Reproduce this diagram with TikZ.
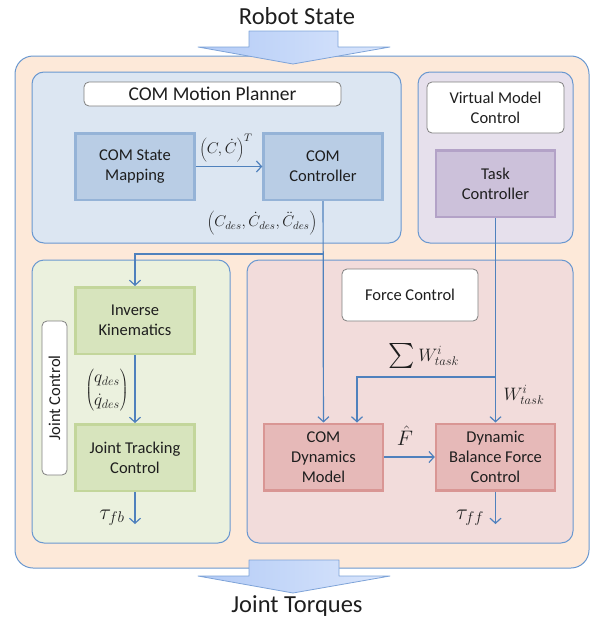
\RequirePackage{fix-cm}
\documentclass[tikz,border=0pt]{standalone}
\usepackage{fontspec}
\setmainfont{Carlito}
\usetikzlibrary{arrows.meta, positioning}

\definecolor{framefill}{HTML}{FDE9D9}
\definecolor{frameline}{HTML}{6A98D0}
\definecolor{planfill}{HTML}{DCE6F2}
\definecolor{vmcfill}{HTML}{E6E0EC}
\definecolor{jointfill}{HTML}{EBF1DE}
\definecolor{forcefill}{HTML}{F2DCDB}
\definecolor{blueblk}{HTML}{B9CDE5}
\definecolor{blueedge}{HTML}{95B3D7}
\definecolor{purpleblk}{HTML}{CCC1DA}
\definecolor{purpleedge}{HTML}{B3A2C7}
\definecolor{greenblk}{HTML}{D7E4BD}
\definecolor{greenedge}{HTML}{C3D69B}
\definecolor{redblk}{HTML}{E6B9B8}
\definecolor{rededge}{HTML}{D99694}
\definecolor{linkblue}{HTML}{4F81BD}
\definecolor{arrowleft}{HTML}{B3CBF6}
\definecolor{arrowright}{HTML}{DAE6FC}
\definecolor{arrowline}{HTML}{7EA3D8}
\definecolor{inkgray}{HTML}{1E1E1E}

\begin{document}
\begin{tikzpicture}[x=1pt,y=-1pt,>={Straight Barb[length=5pt,width=11pt]},node distance=188pt,text=inkgray]
		\tikzstyle{panel}=[draw=frameline, line width=1pt, rounded corners=12pt]
		\tikzstyle{title}=[draw=gray, fill=white, rounded corners=5pt, line width=0.8pt, align=center, font=\fontsize{16.5}{20}\selectfont]
		\tikzstyle{block}=[line width=2.5pt, minimum width=119pt, minimum height=66.5pt, inner sep=0pt, align=center, font=\fontsize{16.5}{20}\selectfont]
		\tikzstyle{flow}=[->, draw=linkblue, line width=1.2pt]
		\tikzstyle{mathlab}=[inner sep=0pt, font=\fontsize{15.5}{18}\selectfont]
		\tikzstyle{bigarrow}=[draw=arrowline, left color=arrowleft, right color=arrowright, line width=0.8pt, line join=round]
		
		\useasboundingbox (0,0) rectangle (592,621);
		
		% frame and panels
		\draw[panel, fill=framefill, rounded corners=18pt] (15,56) rectangle (589,568);
		\draw[panel, fill=planfill] (32,72) rectangle (401,243);
		\draw[panel, fill=vmcfill] (418,72) rectangle (573,243);
		\draw[panel, fill=jointfill] (32,260) rectangle (230,543);
		\draw[panel, fill=forcefill] (247,260) rectangle (573,543);
		
		% in and out
		\node[font=\fontsize{24.5}{28}\selectfont] (state) at (297,16) {Robot State};
		\draw[bigarrow] (249,31) -- (338,31) -- (338,47) -- (390,47) -- (293,64) -- (198,47) -- (249,47) -- cycle;
		\draw[bigarrow] (249,560) -- (339,560) -- (339,576) -- (390,576) -- (293,593) -- (198,576) -- (249,576) -- cycle;
		\node[font=\fontsize{24.5}{28}\selectfont] (torques) at (297,606) {Joint Torques};
		
		% titles
		\node[title, minimum width=257pt, minimum height=24pt, font=\fontsize{19.5}{22}\selectfont] (plantitle) at (212.5,94) {COM Motion Planner};
		\node[title, minimum width=137pt, minimum height=51pt] (vmctitle) at (495.5,107.5) {Virtual Model\\Control};
		\node[title, minimum width=136pt, minimum height=52pt] (forcetitle) at (410,295) {Force Control};
		\node[title, rotate=90, minimum width=154pt, minimum height=25pt, inner sep=0pt] (jointtitle) at (54.5,398) {Joint Control};
		
		% blocks
		\node[block, fill=blueblk, draw=blueedge] (map) at (135,166.5) {COM State\\Mapping};
		\node[block, fill=blueblk, draw=blueedge] (ctrl) [right of=map] {COM\\Controller};
		\node[block, fill=purpleblk, draw=purpleedge] (task) at (495.5,183.5) {Task\\Controller};
		\node[block, fill=greenblk, draw=greenedge] (ik) at (135,320.5) {Inverse\\Kinematics};
		\node[block, fill=greenblk, draw=greenedge] (jtc) [below of=ik, node distance=137pt] {Joint Tracking\\Control};
		\node[block, fill=redblk, draw=rededge] (cdm) at (323.5,457) {COM\\Dynamics\\Model};
		\node[block, fill=redblk, draw=rededge] (dbf) [right of=cdm, node distance=172pt] {Dynamic\\Balance Force\\Control};
		
		\coordinate (split) at (323.5,254);
		\coordinate (wsplit) at (495.5,377);
		\coordinate (fb) at (135,524);
		\coordinate (ff) at (495.5,524);
		
		\draw[flow] (map) -- (ctrl);
		\draw[flow] (ctrl) -- (cdm);
		\draw[flow] (split) -| (ik);
		\draw[flow] (ik) -- (jtc);
		\draw[flow] (task) -- (dbf);
		\draw[flow] (wsplit) -| ([xshift=33.5pt]cdm.north);
		\draw[flow] (cdm) -- (dbf);
		\draw[flow] (jtc) -- (fb);
		\draw[flow] (dbf) -- (ff);
		
		% labels
		\node[mathlab] (clab) at (226,148) {$\left(C,\dot{C}\right)^{T}$};
		\node[mathlab] (cdeslab) at (262,223) {$\left(C_{des},\dot{C}_{des},\ddot{C}_{des}\right)$};
		\node[mathlab, font=\fontsize{17.5}{20}\selectfont] (qlab) at (107,390) {$\left(\begin{array}{@{}c@{}} q_{des}\\[3pt] \dot{q}_{des}\end{array}\right)$};
		\node[mathlab, font=\fontsize{18}{22}\selectfont] (sumlab) at (424,356) {\raisebox{-6pt}{\scalebox{2.5}{$\sum$}}\,$W^{i}_{task}$};
		\node[mathlab, font=\fontsize{18}{22}\selectfont] (wlab) at (524,395) {$W^{i}_{task}$};
		\node[mathlab, font=\fontsize{21}{24}\selectfont] (flab) at (405,436) {$\hat{F}$};
		\node[mathlab, font=\fontsize{22}{24}\selectfont] (fblab) at (112,518) {$\tau_{fb}$};
		\node[mathlab, font=\fontsize{22}{24}\selectfont] (fflab) at (470,518) {$\tau_{ff}$};
	\end{tikzpicture}
\end{document}
